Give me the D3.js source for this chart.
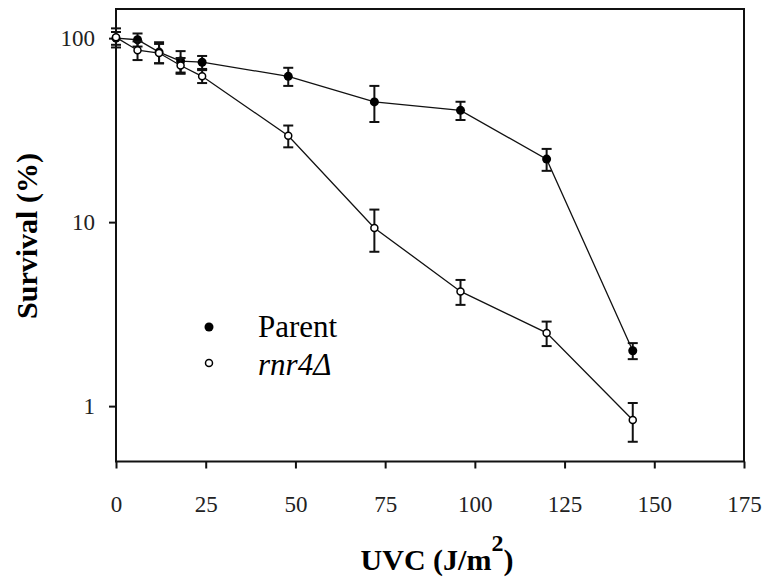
<!DOCTYPE html>
<html>
<head>
<meta charset="utf-8">
<script src="https://cdn.jsdelivr.net/npm/d3@7/dist/d3.min.js"></script>
<style>
  body { margin: 0; background: #fff; }
  svg { display: block; }
</style>
</head>
<body>
<svg id="chart"></svg>
<script>
// UVC survival curves, parent vs rnr4 mutant

const doses = [0, 6, 12, 18, 24, 48, 72, 96, 120, 144];
const parentSurvival = [100, 98, 84, 75, 74, 62, 45, 40.5, 22, 2.0];
const parentErr = [8, 8, 11, 10, 6, 7, 10, 4.6, 3, 0.2];
const rnr4Survival = [101, 86, 83, 71, 62, 29.5, 9.3, 4.2, 2.5, 0.84];
const rnr4Err = [12, 10, 10, 7, 5, 4, 2.4, 0.65, 0.38, 0.2];
const xTicks = [0, 25, 50, 75, 100, 125, 150, 175];
const yTicks = [1, 10, 100];

const W = 767, H = 582;
const margin = { top: 9, right: 23, bottom: 120.5, left: 116 };

const svg = d3.select("#chart")
  .attr("width", W)
  .attr("height", H);

const x = d3.scaleLinear()
  .domain([0, 175])
  .range([margin.left, W - margin.right]);

const y = d3.scaleLog()
  .domain([0.5, 144])
  .range([H - margin.bottom, margin.top]);

const serif = "'Liberation Serif', 'Times New Roman', serif";

// frame
svg.append("rect")
  .attr("x", x(0))
  .attr("y", y(144))
  .attr("width", x(175) - x(0))
  .attr("height", y(0.5) - y(144))
  .attr("fill", "none")
  .attr("stroke", "#111")
  .attr("stroke-width", 2);

const xAxis = svg.append("g")
  .attr("transform", `translate(0,${y(0.5)})`)
  .call(d3.axisBottom(x).tickValues(xTicks).tickSize(7).tickPadding(27));

const yAxis = svg.append("g")
  .attr("transform", `translate(${x(0)},0)`)
  .call(d3.axisLeft(y).tickValues(yTicks).tickFormat(d3.format("d")).tickSize(7).tickPadding(14));

[xAxis, yAxis].forEach(a => {
  a.select(".domain").remove();
  a.selectAll(".tick line").attr("stroke", "#111").attr("stroke-width", 2);
  a.selectAll(".tick text")
    .attr("fill", "#222")
    .style("font-family", serif)
    .style("font-size", "23px");
});

function drawSeries(vals, errs, filled) {
  const pts = doses.map((d, i) => ({ d: d, v: vals[i], e: errs[i] }));
  const g = svg.append("g");

  g.append("path")
    .datum(pts)
    .attr("fill", "none")
    .attr("stroke", "#111")
    .attr("stroke-width", 1.3)
    .attr("d", d3.line().x(p => x(p.d)).y(p => y(p.v)));

  const eb = g.selectAll("g.err")
    .data(pts)
    .join("g")
    .attr("class", "err")
    .attr("stroke", "#111")
    .attr("stroke-width", 2);

  eb.append("line")
    .attr("x1", p => x(p.d)).attr("x2", p => x(p.d))
    .attr("y1", p => y(p.v + p.e)).attr("y2", p => y(p.v - p.e));
  eb.append("line")
    .attr("x1", p => x(p.d) - 5).attr("x2", p => x(p.d) + 5)
    .attr("y1", p => y(p.v + p.e)).attr("y2", p => y(p.v + p.e));
  eb.append("line")
    .attr("x1", p => x(p.d) - 5).attr("x2", p => x(p.d) + 5)
    .attr("y1", p => y(p.v - p.e)).attr("y2", p => y(p.v - p.e));

  g.selectAll("circle")
    .data(pts)
    .join("circle")
    .attr("cx", p => x(p.d))
    .attr("cy", p => y(p.v))
    .attr("r", filled ? 4.5 : 3.5)
    .attr("fill", filled ? "#000" : "#fff")
    .attr("stroke", "#000")
    .attr("stroke-width", filled ? 0 : 1.5);
}

drawSeries(parentSurvival, parentErr, true);
drawSeries(rnr4Survival, rnr4Err, false);

// legend
const legend = svg.append("g");
legend.append("circle").attr("cx", 209).attr("cy", 327).attr("r", 4.5).attr("fill", "#000");
legend.append("circle").attr("cx", 209).attr("cy", 363).attr("r", 3.5)
  .attr("fill", "#fff").attr("stroke", "#000").attr("stroke-width", 1.5);
legend.append("text")
  .attr("x", 258).attr("y", 337)
  .style("font-family", serif).style("font-size", "31px")
  .text("Parent");
legend.append("text")
  .attr("x", 258).attr("y", 375)
  .style("font-family", serif).style("font-size", "31px").style("font-style", "italic")
  .text("rnr4Δ");

// axis titles
const xt = svg.append("text")
  .attr("x", 437).attr("y", 570)
  .attr("text-anchor", "middle")
  .style("font-family", serif).style("font-size", "30px").style("font-weight", "bold");
xt.append("tspan").text("UVC (J/m");
xt.append("tspan").attr("dy", -19).style("font-size", "24px").text("2");
xt.append("tspan").attr("dy", 19).text(")");

svg.append("text")
  .attr("transform", "translate(37,236) rotate(-90)")
  .attr("text-anchor", "middle")
  .style("font-family", serif).style("font-size", "30px").style("font-weight", "bold")
  .text("Survival (%)");
</script>
</body>
</html>
